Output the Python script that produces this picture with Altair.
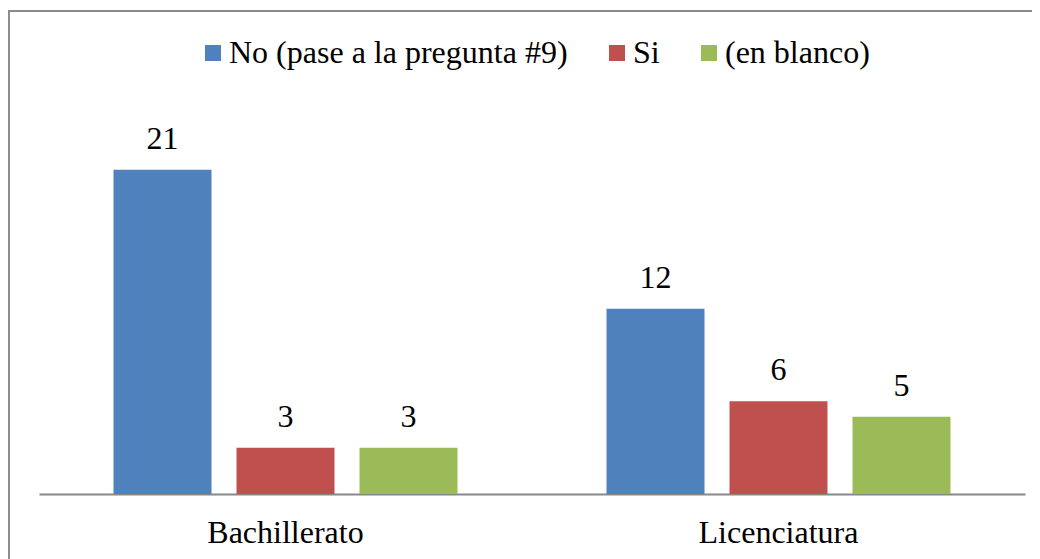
import altair as alt
import pandas as pd

categories = ["Bachillerato", "Licenciatura"]
series = ["No (pase a la pregunta #9)", "Si", "(en blanco)"]
no_vals = [21, 12]
si_vals = [3, 6]
blanco_vals = [3, 5]
colors = ["#4F81BD", "#C0504D", "#9BBB59"]

rows = []
for s, vals in zip(series, [no_vals, si_vals, blanco_vals]):
    for c, v in zip(categories, vals):
        rows.append({"categoria": c, "serie": s, "valor": v})
df = pd.DataFrame(rows)

FONT = "Liberation Serif"
FS = 32

x_enc = alt.X("categoria:N", sort=categories,
              scale=alt.Scale(paddingInner=0, paddingOuter=0),
              axis=alt.Axis(title=None, labelAngle=0, ticks=False, grid=False,
                            labelFont=FONT, labelFontSize=FS, labelColor="black",
                            labelPadding=23, domainColor="#888888", domainWidth=2))
xoff_enc = alt.XOffset("serie:N", sort=series,
                       scale=alt.Scale(paddingInner=0.2033, paddingOuter=0.6056))
y_enc = alt.Y("valor:Q", scale=alt.Scale(domain=[0, 27], nice=False), axis=None)

bars = alt.Chart(df).mark_bar().encode(
    x=x_enc,
    xOffset=xoff_enc,
    y=y_enc,
    color=alt.Color("serie:N", sort=series,
                    scale=alt.Scale(domain=series, range=colors),
                    legend=alt.Legend(title=None, orient="none", direction="horizontal",
                                      legendX=158, legendY=-40, padding=0,
                                      symbolType="square", symbolSize=256,
                                      symbolStrokeWidth=0, symbolOpacity=1,
                                      labelFont=FONT, labelFontSize=FS,
                                      labelColor="black", labelOffset=0,
                                      columnPadding=33, labelLimit=600)),
)

labels = alt.Chart(df).mark_text(font=FONT, fontSize=FS, color="black",
                                 baseline="alphabetic", dy=-21).encode(
    x=x_enc,
    xOffset=xoff_enc,
    y=y_enc,
    text=alt.Text("valor:Q"),
)

border = alt.Chart(pd.DataFrame({"d": [0]})).mark_rect(
    fill=None, fillOpacity=0, stroke="#8c8c8c", strokeWidth=2
).encode(
    x=alt.value(-30), x2=alt.value(1200),
    y=alt.value(-66), y2=alt.value(1000),
)

chart = alt.layer(border, bars, labels).properties(
    width=986, height=417,
    autosize=alt.AutoSizeParams(type="none"),
    padding={"left": 31, "top": 69, "right": 7, "bottom": 65},
).configure(
    background="white",
    font=FONT,
    view=alt.ViewConfig(strokeWidth=0, stroke=None),
    text=alt.MarkConfig(font=FONT),
    legend=alt.LegendConfig(labelFont=FONT),
    axis=alt.AxisConfig(labelFont=FONT),
)

chart.save("out.html", embed_options={"renderer": "svg", "actions": False})
